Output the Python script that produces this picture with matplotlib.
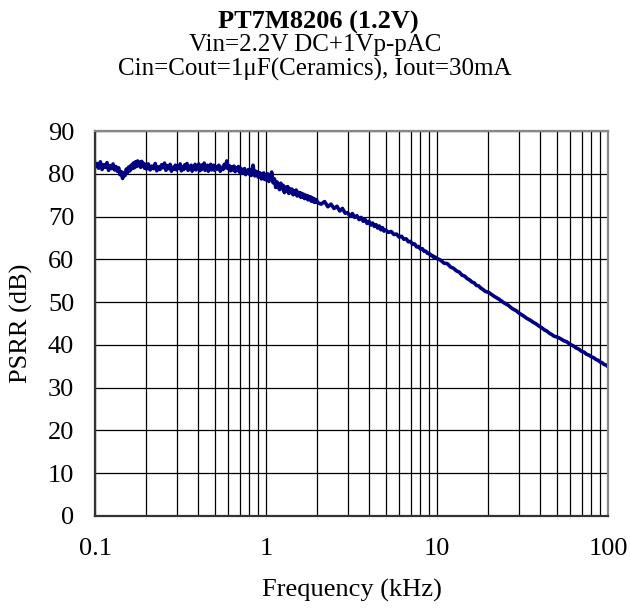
import matplotlib
matplotlib.use("Agg")
import matplotlib.pyplot as plt
from matplotlib.ticker import LogLocator, FixedLocator, NullFormatter

# PSRR readings, split into frequency bands (kHz, dB)
freq_a = [0.1000, 0.1025, 0.1050, 0.1075, 0.1100, 0.1125, 0.1150, 0.1175, 0.1200, 0.1225,
          0.1250, 0.1275, 0.1300, 0.1325, 0.1350, 0.1375, 0.1400, 0.1425, 0.1450, 0.1475,
          0.1500, 0.1525, 0.1550, 0.1575, 0.1600, 0.1625, 0.1650, 0.1675, 0.1700, 0.1725,
          0.1750, 0.1775, 0.1800, 0.1825, 0.1850, 0.1875, 0.1900, 0.1925, 0.1950, 0.1975]
psrr_a = [81.6, 82.4, 81.3, 82.8, 81.0, 82.1, 81.5, 82.6, 80.8, 81.9,
          81.2, 82.3, 80.9, 81.7, 80.6, 81.4, 79.8, 80.5, 78.9, 80.2,
          79.6, 81.1, 80.3, 81.6, 80.7, 82.0, 81.2, 82.5, 81.4, 82.8,
          81.7, 83.0, 81.9, 82.7, 81.5, 82.9, 81.8, 82.4, 81.3, 82.2]

freq_b = [0.200, 0.205, 0.210, 0.215, 0.220, 0.225, 0.230, 0.235, 0.240, 0.245,
          0.250, 0.255, 0.260, 0.265, 0.270, 0.275, 0.280, 0.285, 0.290, 0.295,
          0.300, 0.305, 0.310, 0.315, 0.320, 0.325, 0.330, 0.335, 0.340, 0.345,
          0.350, 0.355, 0.360, 0.365, 0.370, 0.375, 0.380, 0.385, 0.390, 0.395,
          0.400, 0.405, 0.410, 0.415, 0.420, 0.425, 0.430, 0.435, 0.440, 0.445,
          0.450, 0.455, 0.460, 0.465, 0.470, 0.475, 0.480, 0.485, 0.490, 0.495]
psrr_b = [81.1, 82.3, 80.9, 81.8, 81.2, 82.4, 80.7, 81.6, 81.0, 82.1,
          81.4, 82.5, 80.8, 81.9, 81.2, 82.2, 80.6, 81.5, 81.1, 82.0,
          80.9, 81.8, 81.3, 82.3, 80.7, 81.6, 81.0, 82.1, 81.4, 82.4,
          80.8, 81.7, 81.1, 82.0, 80.6, 81.5, 81.2, 82.2, 80.9, 81.8,
          81.3, 82.3, 80.7, 81.6, 81.0, 82.1, 81.4, 82.5, 80.8, 81.7,
          81.1, 82.0, 80.6, 81.5, 81.2, 82.2, 80.9, 81.8, 81.3, 82.0]

freq_c = [0.50, 0.51, 0.52, 0.53, 0.54, 0.55, 0.56, 0.57, 0.58, 0.59,
          0.60, 0.61, 0.62, 0.63, 0.64, 0.65, 0.66, 0.67, 0.68, 0.69,
          0.70, 0.71, 0.72, 0.73, 0.74, 0.75, 0.76, 0.77, 0.78, 0.79,
          0.80, 0.81, 0.82, 0.83, 0.84, 0.85, 0.86, 0.87, 0.88, 0.89,
          0.90, 0.91, 0.92, 0.93, 0.94, 0.95, 0.96, 0.97, 0.98, 0.99]
psrr_c = [80.8, 81.7, 81.1, 82.0, 80.6, 81.5, 81.0, 82.2, 81.4, 83.0,
          81.2, 81.9, 80.7, 81.6, 80.9, 81.8, 80.5, 81.4, 80.8, 81.7,
          80.4, 81.3, 80.1, 81.0, 80.5, 81.2, 79.8, 80.7, 80.2, 81.0,
          79.9, 80.8, 79.6, 81.2, 82.0, 80.3, 79.5, 80.6, 79.9, 80.4,
          79.2, 80.3, 79.6, 80.1, 78.8, 79.9, 79.3, 80.2, 78.7, 79.6]

freq_d = [1.00, 1.02, 1.04, 1.06, 1.08, 1.10, 1.12, 1.14, 1.16, 1.18,
          1.20, 1.22, 1.24, 1.26, 1.28, 1.30, 1.32, 1.34, 1.36, 1.38,
          1.40, 1.42, 1.44, 1.46, 1.48, 1.50, 1.52, 1.54, 1.56, 1.58,
          1.60, 1.62, 1.64, 1.66, 1.68, 1.70, 1.72, 1.74, 1.76, 1.78,
          1.80, 1.82, 1.84, 1.86, 1.88, 1.90, 1.92, 1.94, 1.96, 1.98]
psrr_d = [78.6, 80.0, 78.2, 79.4, 80.4, 77.9, 78.8, 76.8, 78.1, 77.2,
          76.3, 77.8, 76.5, 77.3, 75.6, 76.9, 75.9, 77.0, 75.4, 76.5,
          75.6, 76.4, 75.1, 76.0, 75.3, 76.2, 74.8, 75.7, 74.9, 75.6,
          74.5, 75.4, 74.6, 75.2, 74.2, 75.0, 74.3, 74.9, 73.9, 74.7,
          74.0, 74.6, 73.6, 74.4, 73.7, 74.2, 73.3, 74.0, 73.4, 73.8]

freq_e = [2.0, 2.1, 2.2, 2.3, 2.4, 2.5, 2.6, 2.7, 2.8, 2.9,
          3.0, 3.1, 3.2, 3.3, 3.4, 3.5, 3.6, 3.7, 3.8, 3.9,
          4.0, 4.1, 4.2, 4.3, 4.4, 4.5, 4.6, 4.7, 4.8, 4.9]
psrr_e = [73.3, 72.9, 73.5, 72.3, 72.9, 71.9, 72.4, 71.3, 71.9, 70.8,
          70.9, 70.1, 70.7, 69.8, 70.2, 69.3, 69.8, 68.9, 69.3, 68.4,
          68.9, 68.0, 68.5, 67.7, 68.1, 67.3, 67.8, 66.9, 67.4, 66.6]

freq_f = [5.0, 5.2, 5.4, 5.6, 5.8, 6.0, 6.2, 6.4, 6.6, 6.8,
          7.0, 7.2, 7.4, 7.6, 7.8, 8.0, 8.2, 8.4, 8.6, 8.8,
          9.0, 9.2, 9.4, 9.6, 9.8]
psrr_f = [66.9, 66.3, 66.5, 65.8, 65.9, 65.2, 65.4, 64.7, 64.8, 64.1,
          64.2, 63.5, 63.6, 62.9, 63.0, 62.4, 62.5, 61.9, 61.9, 61.4,
          61.4, 60.9, 60.9, 60.4, 60.5]

freq_g = [10.0, 10.5, 11.0, 11.5, 12.0, 12.5, 13.0, 13.5, 14.0, 14.5,
          15.0, 15.5, 16.0, 16.5, 17.0, 17.5, 18.0, 18.5, 19.0, 19.5]
psrr_g = [60.2, 59.8, 59.1, 59.0, 58.2, 57.9, 57.3, 57.0, 56.3, 56.1,
          55.5, 55.2, 54.7, 54.5, 53.9, 53.8, 53.3, 53.0, 52.6, 52.4]

freq_h = [20.0, 21.5, 23.0, 24.5, 26.0, 27.5, 29.0, 30.5, 32.0, 33.5,
          35.0, 36.5, 38.0, 39.5, 41.0, 42.5, 44.0, 45.5, 47.0, 48.5]
psrr_h = [52.3, 51.4, 50.7, 49.9, 49.3, 48.5, 48.0, 47.3, 46.8, 46.2,
          45.8, 45.3, 44.9, 44.4, 44.0, 43.5, 43.2, 42.7, 42.4, 42.0]

freq_i = [50.0, 52.5, 55.0, 57.5, 60.0, 62.5, 65.0, 67.5, 70.0, 72.5,
          75.0, 77.5, 80.0, 82.5, 85.0, 87.5, 90.0, 92.5, 95.0, 97.5, 100.0]
psrr_i = [41.9, 41.5, 41.0, 40.7, 40.1, 39.8, 39.3, 39.0, 38.5, 38.3,
          37.8, 37.6, 37.2, 37.0, 36.6, 36.4, 36.0, 35.8, 35.4, 35.3, 34.9]

freq = freq_a + freq_b + freq_c + freq_d + freq_e + freq_f + freq_g + freq_h + freq_i
psrr = psrr_a + psrr_b + psrr_c + psrr_d + psrr_e + psrr_f + psrr_g + psrr_h + psrr_i

x_ticks = [0.1, 1, 10, 100]
x_tick_labels = ["0.1", "1", "10", "100"]
y_ticks = [0, 10, 20, 30, 40, 50, 60, 70, 80, 90]

title_main = "PT7M8206 (1.2V)"
title_sub1 = "Vin=2.2V DC+1Vp-pAC"
title_sub2 = "Cin=Cout=1\u03bcF(Ceramics), Iout=30mA"

plt.rcParams['font.family'] = ['Liberation Serif', 'DejaVu Serif']

fig = plt.figure(figsize=(6.3, 6.08), dpi=100)
ax = fig.add_axes([95 / 630, 92 / 608, 513 / 630, 385 / 608])

ax.plot(freq, psrr, color='#000080', linewidth=2.6)

ax.set_xscale('log')
ax.set_xlim(0.1, 100)
ax.set_ylim(0, 90)
ax.xaxis.set_major_locator(FixedLocator(x_ticks))
ax.set_xticklabels(x_tick_labels)
ax.xaxis.set_minor_locator(LogLocator(base=10, subs=[2, 3, 4, 5, 6, 7, 8, 9]))
ax.xaxis.set_minor_formatter(NullFormatter())
ax.set_yticks(y_ticks)

ax.grid(True, which='both', axis='x', color='black', linewidth=0.9)
ax.grid(True, which='major', axis='y', color='black', linewidth=0.9)
ax.set_axisbelow(True)

ax.tick_params(axis='both', which='both', length=0, labelsize=19)
ax.tick_params(axis='x', pad=16)
ax.tick_params(axis='y', pad=15)

for side in ['left', 'bottom']:
    ax.spines[side].set_color('#333333')
    ax.spines[side].set_linewidth(1.6)
for side in ['top', 'right']:
    ax.spines[side].set_color('#888888')
    ax.spines[side].set_linewidth(1.6)

ax.set_xlabel("Frequency (kHz)", fontsize=19, va='center')
ax.xaxis.set_label_coords(0.5, (516 - 590) / 385)
ax.set_ylabel("PSRR (dB)", fontsize=19, va='center')
ax.yaxis.set_label_coords((21 - 95) / 513, 0.5)

fig.text(0.505, 1 - 22 / 608, title_main, ha='center', va='center', fontsize=19, fontweight='bold')
fig.text(0.5, 1 - 45 / 608, title_sub1, ha='center', va='center', fontsize=18)
fig.text(0.5, 1 - 69 / 608, title_sub2, ha='center', va='center', fontsize=18)

fig.savefig('out.png', dpi=100)
